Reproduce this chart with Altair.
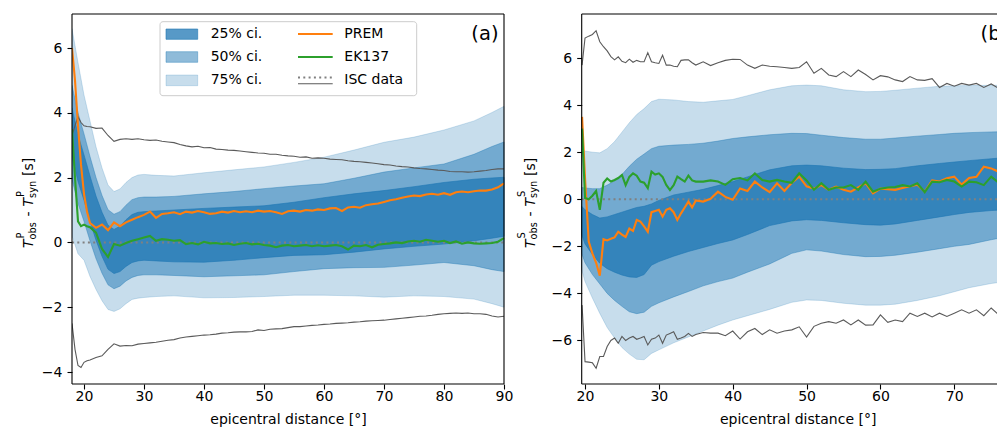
import altair as alt
import pandas as pd

# ---------------- data: P panel (a) ----------------
BX_P = [18, 19, 20, 21, 22, 23, 24, 25, 26, 27, 28, 29, 30, 32, 35, 40, 45, 50, 55, 60, 65, 70, 75, 80, 85, 88, 90]
U75_P = [6.6, 5.55, 4.55, 3.75, 2.95, 2.3, 1.77, 1.57, 1.65, 1.85, 2.0, 2.08, 2.1, 2.07, 2.05, 2.15, 2.24, 2.33, 2.47, 2.63, 2.85, 3.09, 3.25, 3.47, 3.75, 4.01, 4.2]
L75_P = [0.2, -0.35, -0.55, -1.05, -1.45, -1.8, -2.07, -2.13, -2.05, -1.89, -1.76, -1.72, -1.7, -1.67, -1.65, -1.71, -1.7, -1.67, -1.63, -1.63, -1.65, -1.69, -1.65, -1.67, -1.75, -1.89, -2.0]
U50_P = [4.85, 4.0, 3.35, 2.65, 2.0, 1.45, 1.01, 0.87, 0.95, 1.15, 1.32, 1.38, 1.4, 1.4, 1.42, 1.5, 1.57, 1.66, 1.74, 1.81, 1.98, 2.17, 2.3, 2.42, 2.72, 2.96, 3.1]
L50_P = [1.95, 1.2, 0.65, 0.05, -0.5, -0.95, -1.31, -1.43, -1.35, -1.19, -1.08, -1.02, -1.0, -1.0, -1.02, -1.06, -1.03, -1.0, -0.9, -0.81, -0.78, -0.77, -0.7, -0.62, -0.72, -0.84, -0.9]
U25_P = [4.15, 3.32, 2.7, 2.05, 1.43, 0.93, 0.53, 0.4, 0.5, 0.7, 0.86, 0.93, 0.95, 0.97, 1.0, 1.05, 1.09, 1.13, 1.24, 1.38, 1.5, 1.6, 1.72, 1.85, 1.95, 1.99, 2.01]
L25_P = [2.65, 1.88, 1.3, 0.65, 0.07, -0.43, -0.83, -0.96, -0.9, -0.74, -0.62, -0.57, -0.55, -0.57, -0.6, -0.61, -0.55, -0.47, -0.4, -0.38, -0.3, -0.2, -0.12, -0.05, 0.05, 0.13, 0.19]

LX_P = [18, 18.5, 19, 19.5, 20, 20.5, 21] + list(range(22, 91))
PREM_P = [6.0, 5.0, 3.6, 2.4, 1.5, 0.95, 0.6,
          0.45, 0.55, 0.38, 0.62, 0.5, 0.62, 0.7, 0.78, 0.85, 0.95, 0.76, 0.88, 0.9, 0.93, 0.87, 0.95, 0.92, 0.97,
          0.93, 0.88, 0.9, 0.95, 0.92, 0.97, 0.93, 0.96, 0.93, 0.98, 0.95, 0.97, 0.93, 0.88, 0.96, 0.98, 0.95, 1.0,
          0.98, 1.02, 1.0, 1.05, 1.06, 0.97, 1.08, 1.1, 1.07, 1.15, 1.18, 1.2, 1.25, 1.3, 1.33, 1.38, 1.42, 1.45,
          1.43, 1.48, 1.5, 1.47, 1.52, 1.47, 1.55, 1.57, 1.55, 1.58, 1.6, 1.6, 1.63, 1.7, 1.82]
EK137_P = [3.5, 2.0, 0.65, 0.5, 0.55, 0.5, 0.47,
           0.3, -0.2, -0.45, -0.05, -0.1, -0.02, 0.05, 0.1, 0.15, 0.2, 0.05, 0.1, 0.08, 0.05, 0.07, -0.05, -0.02,
           -0.06, 0.02, -0.03, -0.02, -0.05, -0.03, -0.08, -0.04, -0.02, -0.06, -0.04, -0.08, -0.1, -0.15, -0.1,
           -0.08, -0.12, -0.1, -0.08, -0.12, -0.09, -0.12, -0.1, -0.08, -0.12, -0.22, -0.1, -0.12, -0.08, -0.15,
           -0.07, -0.05, -0.03, 0.0, -0.02, 0.03, 0.05, 0.02, 0.08, 0.05, 0.02, 0.05, -0.02, 0.03, -0.04, 0.0,
           -0.03, -0.04, -0.03, -0.02, 0.02, 0.13]
ISC_UP_P = [3.3, 3.6, 3.88, 3.7, 3.6, 3.58, 3.57,
            3.52, 3.53, 3.3, 3.12, 3.18, 3.2, 3.18, 3.2, 3.17, 3.15, 3.16, 3.12, 3.1, 3.08, 3.02, 2.98, 2.95,
            2.97, 2.92, 2.93, 2.88, 2.87, 2.85, 2.84, 2.82, 2.8, 2.78, 2.76, 2.75, 2.72, 2.72, 2.69, 2.67, 2.66,
            2.63, 2.64, 2.6, 2.61, 2.6, 2.57, 2.56, 2.55, 2.52, 2.5, 2.49, 2.47, 2.45, 2.43, 2.4, 2.39, 2.36,
            2.34, 2.33, 2.3, 2.28, 2.27, 2.25, 2.23, 2.22, 2.19, 2.18, 2.18, 2.17, 2.18, 2.2, 2.22, 2.25, 2.27, 2.27]
ISC_LO_P = [-2.5, -3.3, -3.8, -3.86, -3.7, -3.65, -3.63,
            -3.55, -3.5, -3.3, -3.13, -3.2, -3.18, -3.19, -3.14, -3.12, -3.1, -3.08, -3.05, -3.02, -3.0, -2.95,
            -2.92, -2.9, -2.88, -2.86, -2.85, -2.83, -2.8, -2.79, -2.77, -2.76, -2.76, -2.75, -2.7, -2.72, -2.68,
            -2.67, -2.66, -2.63, -2.6, -2.6, -2.58, -2.56, -2.55, -2.53, -2.52, -2.5, -2.49, -2.48, -2.46, -2.45,
            -2.43, -2.42, -2.41, -2.4, -2.38, -2.36, -2.34, -2.32, -2.3, -2.28, -2.27, -2.25, -2.22, -2.2, -2.19,
            -2.18, -2.19, -2.18, -2.2, -2.2, -2.22, -2.27, -2.3, -2.28]

# ---------------- data: S panel (b) ----------------
BX_S = [19.55, 20, 21, 22, 23, 24, 25, 26, 27, 28, 29, 30, 32, 34, 36, 38, 40, 42, 45, 48, 50, 52, 55, 58, 60, 62, 65, 68, 70, 72, 75, 78, 80]
U75_S = [2.1, 2.05, 2.0, 1.97, 2.15, 2.45, 2.85, 3.25, 3.6, 3.85, 4.15, 4.25, 4.22, 4.15, 4.12, 4.18, 4.24, 4.4, 4.65, 4.82, 4.85, 4.82, 4.65, 4.57, 4.58, 4.63, 4.72, 4.8, 4.82, 4.83, 4.84, 4.85, 4.86]
U50_S = [0.5, 0.48, 0.45, 0.45, 0.6, 0.78, 1.05, 1.4, 1.7, 1.92, 2.15, 2.25, 2.3, 2.33, 2.38, 2.47, 2.58, 2.65, 2.74, 2.8, 2.79, 2.72, 2.62, 2.55, 2.55, 2.6, 2.68, 2.75, 2.8, 2.83, 2.86, 2.87, 2.88]
U25_S = [-0.3, -0.45, -0.65, -0.8, -0.75, -0.65, -0.55, -0.45, -0.35, -0.3, -0.2, -0.05, 0.18, 0.3, 0.42, 0.58, 0.75, 0.95, 1.25, 1.42, 1.45, 1.42, 1.32, 1.26, 1.27, 1.3, 1.42, 1.52, 1.58, 1.64, 1.72, 1.8, 1.84]
L25_S = [-1.5, -1.9, -2.35, -2.72, -2.95, -3.1, -3.22, -3.3, -3.32, -3.2, -2.8, -2.65, -2.42, -2.22, -2.05, -1.88, -1.73, -1.5, -1.12, -0.92, -0.87, -0.9, -1.0, -1.08, -1.1, -1.05, -0.9, -0.75, -0.65, -0.56, -0.48, -0.42, -0.38]
L50_S = [-2.3, -2.7, -3.2, -3.6, -4.0, -4.3, -4.55, -4.78, -4.86, -4.8, -4.55, -4.4, -4.15, -3.92, -3.68, -3.5, -3.35, -3.1, -2.75, -2.3, -2.15, -2.2, -2.35, -2.44, -2.43, -2.38, -2.25, -2.1, -2.0, -1.92, -1.72, -1.55, -1.48]
L75_S = [-3.0, -3.5, -4.2, -4.85, -5.45, -5.9, -6.3, -6.58, -6.8, -6.82, -6.55, -6.4, -6.1, -5.85, -5.6, -5.35, -5.13, -4.95, -4.68, -4.38, -4.28, -4.3, -4.42, -4.5, -4.5, -4.46, -4.3, -4.1, -3.93, -3.76, -3.58, -3.45, -3.4]

LX_S = [19.6] + [20 + 0.5 * i for i in range(31)] + list(range(36, 81))
PREM_S = [3.5, 0.9, -1.8, -2.3, -2.7, -3.25, -1.7, -1.75, -1.68, -1.62, -1.38, -1.5, -1.6, -1.25, -1.35, -0.88,
          -0.95, -1.15, -1.38, -0.55, -0.5, -0.45, -0.74, -0.45, -0.38, -0.55, -0.88, -0.6, -0.35, -0.1, -0.35, -0.05,
          -0.1, 0.02, 0.32, 0.1, -0.02, 0.46, 0.35, 0.75, 0.5, 0.3, 0.68, 0.35, 0.7, 0.96, 0.55, 0.45, 0.6, 0.4,
          0.54, 0.4, 0.32, 0.5, 0.68, 0.25, 0.45, 0.43, 0.4, 0.48, 0.55, 0.62, 0.32, 0.8, 0.75, 0.89, 0.96, 0.62,
          0.9, 0.95, 1.38, 1.31, 1.17, 1.1, 1.05, 1.15, 1.0]
EK137_S = [3.0, 0.05, 0.0, 0.15, 0.35, -0.45, 0.7, 0.88, 0.75, 0.82, 0.9, 1.03, 0.6, 0.95, 1.1, 1.0, 0.75, 0.7,
           0.47, 1.17, 1.05, 1.1, 0.95, 0.61, 0.39, 0.6, 0.96, 0.85, 0.75, 1.0, 0.8, 0.75,
           0.75, 0.8, 0.75, 0.61, 0.85, 0.9, 0.8, 1.1, 0.82, 0.75, 0.82, 0.75, 0.7, 1.1, 0.8, 0.4, 0.68, 0.4, 0.5,
           0.5, 0.6, 0.4, 0.75, 0.32, 0.45, 0.5, 0.52, 0.6, 0.54, 0.68, 0.3, 0.75, 0.72, 0.82, 0.75, 0.54, 0.75,
           0.72, 0.6, 0.96, 0.7, 0.62, 0.7, 0.65, 0.75]
ISC_UP_S = [5.7, 6.85, 6.93, 7.0, 7.16, 6.69, 6.48, 6.3, 6.06, 5.92, 6.05, 5.86, 5.8, 5.95, 5.82, 5.9, 5.84, 5.84,
            6.23, 5.84, 5.8, 5.77, 6.12, 5.7, 5.7, 5.65, 5.63, 5.9, 5.92, 5.92, 5.8, 5.7,
            5.84, 5.68, 5.8, 5.9, 5.95, 5.94, 5.7, 5.56, 5.7, 5.65, 5.63, 5.6, 5.56, 5.6, 5.84, 5.35, 5.56, 5.28,
            5.21, 5.42, 5.21, 5.49, 5.3, 5.07, 5.25, 5.2, 5.07, 5.0, 5.21, 5.07, 5.05, 5.12, 4.75, 4.92, 4.8, 4.92,
            4.85, 4.92, 4.75, 4.9, 4.71, 4.71, 4.75, 4.68, 4.72]
ISC_LO_S = [-4.5, -6.9, -6.92, -6.95, -7.18, -6.68, -6.68, -6.26, -6.0, -5.9, -6.12, -5.83, -6.0, -5.9, -5.83, -5.95,
            -5.9, -5.83, -6.19, -5.95, -5.9, -5.77, -6.12, -5.77, -5.7, -5.63, -5.95, -5.9, -5.83, -5.7, -5.83, -5.75,
            -5.66, -5.69, -5.69, -5.8, -5.6, -5.94, -5.63, -5.49, -5.75, -5.55, -5.69, -5.6, -5.55, -5.42, -5.86,
            -5.4, -5.27, -5.2, -5.27, -5.13, -5.34, -5.13, -5.35, -5.34, -4.91, -5.23, -5.13, -5.2, -4.84, -4.98,
            -4.84, -5.0, -4.84, -4.98, -4.84, -4.7, -4.84, -4.7, -4.95, -4.62, -4.9, -4.65, -4.6, -4.7, -4.55]

LEGEND_BANDS = ["25% ci.", "50% ci.", "75% ci."]
LEGEND_LINES = ["PREM", "EK137", "ISC data"]

# ---------------- styling / geometry ----------------
C0 = "#1f77b4"
ORANGE = "#ff7f0e"
GREY = "#5a5a5a"
GREEN = "#2ca02c"
DOTGREY = "#808080"
FONT = "DejaVu Sans"
NB = "\u00a0"
PW, H = 432, 370          # each panel's plot area
OX = 509.7                # left edge of panel (b) relative to panel (a)
TOTAL_W = 925             # visible drawing width (keeps the page from overflowing)
ONE = pd.DataFrame({"k": [0]})


def txt(text, x, y, size=14, align="left", baseline="middle", angle=0, italic=False):
    kw = dict(text=text, align=align, baseline=baseline, font=FONT, fontSize=size,
              fontStyle="italic" if italic else "normal", color="black")
    if angle:
        kw["angle"] = angle
    return alt.Chart(ONE).mark_text(**kw).encode(x=alt.value(x), y=alt.value(y))


def hrule(x1, x2, y, color, width, dash=None):
    kw = dict(color=color, strokeWidth=width)
    if dash:
        kw["strokeDash"] = dash
    return alt.Chart(ONE).mark_rule(**kw).encode(x=alt.value(x1), x2=alt.value(x2), y=alt.value(y))


def vrule(x, y1, y2, color, width):
    return alt.Chart(ONE).mark_rule(color=color, strokeWidth=width).encode(
        x=alt.value(x), y=alt.value(y1), y2=alt.value(y2))


def ytitle(wave, xb, ybot):
    # composed "T^wave_obs - T^wave_syn [s]", rotated to read upward
    sup, sub = xb - 9.5, xb + 2.5
    return [
        txt("T", xb, ybot, size=14, baseline="alphabetic", angle=270, italic=True),
        txt(wave, sup, ybot - 9.6, size=9.8, baseline="alphabetic", angle=270),
        txt("obs", sub, ybot - 8.6, size=9.8, baseline="alphabetic", angle=270),
        txt("-", xb, ybot - 31.5, size=14, baseline="alphabetic", angle=270),
        txt("T", xb, ybot - 41.5, size=14, baseline="alphabetic", angle=270, italic=True),
        txt(wave, sup, ybot - 51.1, size=9.8, baseline="alphabetic", angle=270),
        txt("syn", sub, ybot - 50.1, size=9.8, baseline="alphabetic", angle=270),
        txt("[s]", xb, ybot - 72.0, size=14, baseline="alphabetic", angle=270),
    ]


def panel(ox, bx, bands, lx, prem, ek, iup, ilo, xdom, ydom, xticks, yticks, wave, tag, title_x, legend, full_box):
    xs = alt.Scale(domain=xdom, range=[ox, ox + PW], nice=False, zero=False)
    ys = alt.Scale(domain=ydom, nice=False, zero=False)
    xax = alt.Axis(values=xticks, title="epicentral distance [°]", format="d", labelFlush=False, orient="bottom")
    yax = alt.Axis(values=yticks, title=None, format="d", labelFlush=False, orient="left", offset=-ox)
    X = alt.X("x:Q", scale=xs, axis=xax)

    u75, l75, u50, l50, u25, l25 = bands
    bdf = pd.DataFrame({"x": bx, "u75": u75, "l75": l75, "u50": u50, "l50": l50, "u25": u25, "l25": l25})
    layers = []
    for lo, hi, a in [("l75", "u75", 0.25), ("l50", "u50", 0.5), ("l25", "u25", 0.75)]:
        layers.append(
            alt.Chart(bdf).mark_area(color=C0, fillOpacity=a, stroke=C0, strokeOpacity=a,
                                     strokeWidth=0.8, clip=True).encode(
                x=X, y=alt.Y(f"{lo}:Q", scale=ys, axis=yax), y2=f"{hi}:Q")
        )
    zdf = pd.DataFrame({"x": [xdom[0], xdom[1]], "y": [0, 0]})
    layers.append(
        alt.Chart(zdf).mark_line(color=DOTGREY, strokeWidth=2, strokeDash=[2, 3.3], clip=True).encode(
            x=X, y=alt.Y("y:Q", scale=ys, axis=yax))
    )
    ldf = pd.DataFrame({"x": lx, "prem": prem, "ek": ek, "iup": iup, "ilo": ilo})
    for field, color, w in [("iup", GREY, 1.1), ("ilo", GREY, 1.1), ("prem", ORANGE, 2.1), ("ek", GREEN, 2.1)]:
        layers.append(
            alt.Chart(ldf).mark_line(color=color, strokeWidth=w, clip=True).encode(
                x=X, y=alt.Y(f"{field}:Q", scale=ys, axis=yax))
        )
    if legend:
        layers.append(
            alt.Chart(ONE).mark_rect(fill="white", fillOpacity=0.8, stroke="#cccccc", strokeWidth=1,
                                     cornerRadius=3).encode(
                x=alt.value(ox + 88), x2=alt.value(ox + 344.7), y=alt.value(7.7), y2=alt.value(81.7))
        )
        for (y1, y2, a) in [(15, 25.3, 0.75), (37.7, 48.3, 0.5), (61, 71.7, 0.25)]:
            layers.append(
                alt.Chart(ONE).mark_rect(fill=C0, fillOpacity=a, stroke=C0, strokeOpacity=a, strokeWidth=0.8).encode(
                    x=alt.value(ox + 94), x2=alt.value(ox + 125.7), y=alt.value(y1), y2=alt.value(y2))
            )
        for lab, y in zip(LEGEND_BANDS, [20, 43, 66.3]):
            layers.append(txt(lab, ox + 138.7, y))
        layers.append(hrule(ox + 226, ox + 260.7, 20, ORANGE, 2.1))
        layers.append(hrule(ox + 226, ox + 260.7, 43, GREEN, 2.1))
        layers.append(hrule(ox + 226, ox + 260.7, 63.5, DOTGREY, 2, [2, 3.3]))
        layers.append(hrule(ox + 226, ox + 260.7, 69.8, GREY, 1.1))
        for lab, y in zip(LEGEND_LINES, [20, 43, 66.3]):
            layers.append(txt(lab, ox + 272.3, y))
    layers.append(txt(tag, ox + 426.5, 19.5, size=19.5, align="right"))
    # frame (spines)
    layers.append(hrule(ox, ox + PW, 0, "black", 1.1))
    layers.append(hrule(ox, ox + PW, H, "black", 1.1))
    layers.append(vrule(ox, 0, H, "black", 1.1))
    if full_box:
        layers.append(vrule(ox + PW, 0, H, "black", 1.1))
    layers += ytitle(wave, ox + title_x, 234)
    return alt.layer(*layers)


left = panel(0, BX_P, [U75_P, L75_P, U50_P, L50_P, U25_P, L25_P], LX_P, PREM_P, EK137_P, ISC_UP_P, ISC_LO_P,
             [18, 90], [-4.37, 7.05], [20, 30, 40, 50, 60, 70, 80, 90], [-4, -2, 0, 2, 4, 6],
             "P", "(a)", -39, True, True)
right = panel(OX, BX_S, [U75_S, L75_S, U50_S, L50_S, U25_S, L25_S], LX_S, PREM_S, EK137_S, ISC_UP_S, ISC_LO_S,
              [19.55, 19.55 + PW / 7.385], [-7.85, 7.87], [20, 30, 40, 50, 60, 70], [-6, -4, -2, 0, 2, 4, 6],
              "S", "(b)", -47, False, True)

chart = (
    alt.layer(left, right)
    .resolve_scale(x="independent", y="independent")
    .resolve_axis(x="independent", y="independent")
    .properties(width=TOTAL_W, height=H, autosize=alt.AutoSizeParams(type="none"),
                padding={"left": 64, "top": 6, "right": 0, "bottom": 46})
    .configure_view(stroke=None)
    .configure_axis(
        labelFont=FONT, labelFontSize=14, labelColor="black",
        titleFont=FONT, titleFontSize=14, titleFontWeight="normal", titleColor="black",
        tickColor="black", tickWidth=1.1, tickSize=5, domain=False, grid=False,
    )
    .configure_axisX(labelPadding=0, titlePadding=9)
    .configure_axisY(labelPadding=5)
)

chart.save("out.html", embed_options={"renderer": "svg", "actions": False})
